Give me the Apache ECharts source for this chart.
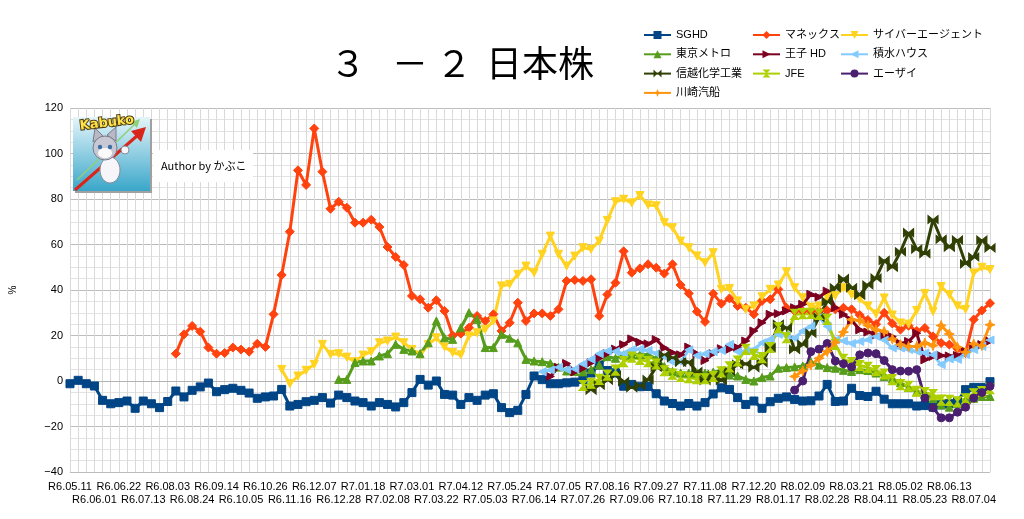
<!DOCTYPE html>
<html><head><meta charset="utf-8">
<script src="https://cdn.jsdelivr.net/npm/echarts@6/dist/echarts.min.js"></script>
<style>html,body{margin:0;padding:0;background:#fff}#c{width:1024px;height:519px}</style>
</head><body><div id="c"></div>
<script>
const categories = [
'R6.05.11','R6.05.18','R6.05.25','R6.06.01','R6.06.08','R6.06.15','R6.06.22','R6.06.29','R6.07.06','R6.07.13',
'R6.07.20','R6.07.27','R6.08.03','R6.08.10','R6.08.17','R6.08.24','R6.08.31','R6.09.07','R6.09.14','R6.09.21',
'R6.09.28','R6.10.05','R6.10.12','R6.10.19','R6.10.26','R6.11.02','R6.11.09','R6.11.16','R6.11.23','R6.11.30',
'R6.12.07','R6.12.14','R6.12.21','R6.12.28','R7.01.04','R7.01.11','R7.01.18','R7.01.25','R7.02.01','R7.02.08',
'R7.02.15','R7.02.22','R7.03.01','R7.03.08','R7.03.15','R7.03.22','R7.03.29','R7.04.05','R7.04.12','R7.04.19',
'R7.04.26','R7.05.03','R7.05.10','R7.05.17','R7.05.24','R7.05.31','R7.06.07','R7.06.14','R7.06.21','R7.06.28',
'R7.07.05','R7.07.12','R7.07.19','R7.07.26','R7.08.02','R7.08.09','R7.08.16','R7.08.23','R7.08.30','R7.09.06',
'R7.09.13','R7.09.20','R7.09.27','R7.10.04','R7.10.11','R7.10.18','R7.10.25','R7.11.01','R7.11.08','R7.11.15',
'R7.11.22','R7.11.29','R7.12.06','R7.12.13','R7.12.20','R7.12.27','R8.01.10','R8.01.17','R8.01.24','R8.01.31',
'R8.02.09','R8.02.14','R8.02.21','R8.02.28','R8.03.07','R8.03.14','R8.03.21','R8.03.28','R8.04.04','R8.04.11',
'R8.04.18','R8.04.25','R8.05.02','R8.05.09','R8.05.16','R8.05.23','R8.05.30','R8.06.06','R8.06.13','R8.06.20',
'R8.06.27','R8.07.04','R8.07.11','R8.07.18'];

const yTicks = [-40, -20, 0, 20, 40, 60, 80, 100, 120];

// SGHD from index 0
const sghd = [
-1.2,0.3,-1.2,-2.2,-8.5,-10,-9.5,-8.8,-12,-8.8,
-10,-11.7,-9,-4.4,-7,-4.1,-2.6,-0.9,-4.7,-3.8,
-3.2,-4.1,-5.3,-7.6,-7,-6.6,-3.7,-11,-10.3,-9.1,
-8.5,-7.3,-9.7,-6.2,-7.3,-8.8,-9.5,-11,-9.5,-10.3,
-11.4,-9.5,-5.1,0.7,-1.8,0,-5.9,-6.2,-10.3,-7.3,
-8.5,-6.2,-5.6,-11.7,-13.9,-12.9,-5.9,2.2,0.6,-1.2,
-1.2,-0.8,-0.5,0.7,3.5,7,4.6,3.6,-2.3,-1.5,
-2.5,-2.4,-5.6,-8.8,-9.9,-11,-9.9,-11,-9.5,-5.7,
-3,-3.7,-7.3,-10.3,-8.8,-12,-9.1,-7.6,-7,-8.1,
-8.8,-8.7,-6.6,-1.5,-9,-8.8,-3.2,-6.4,-6.8,-4.5,
-8,-10,-10,-10,-11,-10.8,-11.5,-10.5,-10,-9,
-3.8,-2.8,-2.8,-0.3];

// マネックス from index 13
const manexStart = 13;
const manex = [
12,20.5,24.2,21.7,14.7,12,12.3,14.7,13.8,12.9,
16.4,15,29.3,46.6,65.6,92.6,86.2,111,92,75.7,
78.8,76.2,69.6,69.6,70.9,67.7,58.9,54.5,51,37.4,
35.9,32.2,35.5,30.8,20,20.8,23.4,28.6,26.4,29.3,
22,25.6,34.4,26.4,29.7,29.7,28.6,31.5,44,44.4,
44,44.7,28.6,38,43.2,57,47.6,49.5,51.3,49.8,
47.2,51.3,42.2,38.5,30.5,26,38.4,34,36.3,33,
32.2,29.3,35.2,35.9,40.3,32.2,30.8,30.8,30.8,30.8,
31,31.5,32.2,31.5,29,26.8,25,30,25.3,22.6,
24.3,22,23.3,19.6,16.7,16,14.2,12.3,27,31,34.2];

// サイバーエージェント from index 26
const cyberStart = 26;
const cyber = [
5.1,-1.2,2.2,4.7,7.3,16.1,11.7,12,10.5,8.5,
11.4,12.9,16.8,17.6,19.3,16.8,13.9,11.4,16,19,
15,12.5,11.5,19.8,21.2,22.7,26.4,41.8,42.5,46.9,
50.5,47.6,55.7,63.7,55.7,50.5,54.9,58.6,57.9,61.5,
70.6,78.8,79.9,78.3,81.5,77.4,77,69.6,67.4,61.5,
58.6,55,52,56.4,40.3,40.7,35.2,31.5,33,37,
40.3,42.2,48,41,36.6,32.5,33,37,37.5,41,
38,36,33,29.5,36.5,29,25.5,25,31,38.5,
30.5,41.5,38,33,31.5,47.5,50,49];

// 東京メトロ from index 33
const metroStart = 33;
const metro = [
0.7,0.7,8.1,8.8,8.8,11,12,16.1,13.9,13.2,
12,16.8,26.4,19,18.3,23.4,30,27.1,14.7,14.7,
20.5,18.8,16.8,9.5,8.8,8.5,7.8,6.1,4.4,4.2,
4,5,7,10.7,10,11.4,11.5,11.7,11.6,9.7,
6.4,4.2,3.5,3.5,3.5,3.5,3.9,4.6,2.6,2.2,
0.7,0,1.5,2.2,5.6,5.9,6.2,6.6,8.4,7,
5.9,5.6,4.7,4.2,5,4.6,3.5,2,1,-0.7,
-2.9,-4.7,-5.6,-7.7,-10.5,-11.5,-10,-8.6,-7.6,-6.8,-6.8];

// 王子 HD from index 59
const ojiStart = 59;
const oji = [
2,6,7.7,4,5.5,8,10,12,14,16,
18.5,17,16.3,18.2,14.6,12.5,11.5,14.9,12,9,
12,14.2,13.9,14.7,17.6,22,25.6,29.3,29.6,30.8,
32.2,33.7,38.1,36.9,39.5,32.2,29.3,26.7,22.5,21.5,
20.3,20,19.5,16.5,17.4,21,9.3,10.8,11.2,11,
11.2,13.1,15.2,16,17.5];

// 積水ハウス from index 58
const sekisuiStart = 58;
const sekisui = [
4.1,4.8,6,5,5.3,7.5,9.5,12,13.2,13,
12,13.8,14,13.4,12.1,10.7,8.3,8.3,13.7,11.2,
12,12.9,13.4,16.1,12.9,13.2,13.9,16.8,18.3,20.5,
20.2,18.8,22,24,28,24,18,17.6,16.5,17.4,
18.1,19.6,18,14.5,14.5,13.8,13,12.3,11.5,7.2,
9.7,9.5,11.7,13.8,15.2,18];

// 信越化学工業 from index 64
const shinetsuStart = 64;
const shinetsu = [
-4,-1.8,0.4,2.6,-0.3,-2.9,-2,0.6,6.1,11.5,
10.2,8.3,8.3,4.2,0.2,2.8,0.2,4.4,7.3,7.6,
5.9,8.1,14.7,24.9,23.4,13.9,16.1,21,28,35,
41,45,41,37.7,42.2,45.2,53,50,56.8,65.2,
58,56,71,62.3,58.8,62,51.5,54.5,62,58.5];

// JFE from index 63
const jfeStart = 63;
const jfe = [
-2,-1,0.7,2.6,4.8,8.5,10.5,9.5,8.5,7.5,
4.5,3,2,1.5,1,1,2,4,6.2,8.8,
13.9,11.7,10.3,14.7,23.4,19,29.3,29.6,29.7,29.3,
27.1,16.1,9.5,8.1,6.8,6,4.6,3.1,0.6,-1.6,
-2.3,-4.5,-5.1,-6,-8.4,-8.5,-9.1,-7.8,-5.6,-4.6,-3.4];

// エーザイ from index 89
const eisaiStart = 89;
const eisai = [
-4,0,12.9,14,16.5,8.8,7.6,6.2,11.5,12.3,
12,9,5,4.4,4.3,5,-7.5,-11.8,-16.2,-16.2,
-13.7,-11.5,-7.5,-5.1,-2.3];

// 川崎汽船 from index 89
const kawasakiStart = 89;
const kawasaki = [
2,4.5,7,10,13,17,21.5,27,26.6,24.4,
22.5,21.8,18.5,16,15.2,15.2,16.7,15.6,24.4,20.7,
14.9,12.7,16.3,15.6,24.7];

const pad = (start, arr) => Array(start).fill(null).concat(arr);

const BOWTIE = 'path://M0,0L10,5L0,10Z M20,0L10,5L20,10Z';
const HOURGLASS = 'path://M0,0L10,0L5,10Z M0,20L10,20L5,10Z';
const STAR = 'path://M5,0L6.4,3.6L10,5L6.4,6.4L5,10L3.6,6.4L0,5L3.6,3.6Z';

const defs = [
  {name:'SGHD', data: sghd, color:'#004586', symbol:'rect', size:8},
  {name:'マネックス', data: pad(manexStart, manex), color:'#ff420e', symbol:'diamond', size:9},
  {name:'サイバーエージェント', data: pad(cyberStart, cyber), color:'#ffd320', symbol:'triangle', size:8, rotate:180},
  {name:'東京メトロ', data: pad(metroStart, metro), color:'#579d1c', symbol:'triangle', size:8},
  {name:'王子 HD', data: pad(ojiStart, oji), color:'#7e0021', symbol:'triangle', size:8, rotate:-90},
  {name:'積水ハウス', data: pad(sekisuiStart, sekisui), color:'#83caff', symbol:'triangle', size:8, rotate:90},
  {name:'信越化学工業', data: pad(shinetsuStart, shinetsu), color:'#314004', symbol:BOWTIE, size:[10,8]},
  {name:'JFE', data: pad(jfeStart, jfe), color:'#aecf00', symbol:HOURGLASS, size:[8,10]},
  {name:'エーザイ', data: pad(eisaiStart, eisai), color:'#4b1f6f', symbol:'circle', size:8},
  {name:'川崎汽船', data: pad(kawasakiStart, kawasaki), color:'#ff950e', symbol:STAR, size:10}
];

const FONT = '"Liberation Sans","Noto Sans CJK JP",sans-serif';
const TFONT = '"Noto Sans CJK JP",sans-serif';

const series = defs.map(d => ({
  name: d.name, type: 'line', data: d.data, xAxisIndex: 0,
  symbol: d.symbol, symbolSize: d.size, symbolRotate: d.rotate || 0,
  showAllSymbol: true,
  lineStyle: {color: d.color, width: 3},
  itemStyle: {color: d.color, borderColor: d.color},
  emphasis: {disabled: true},
  animation: false
}));

const legendBase = {
  orient: 'vertical', top: 28, padding: 0, itemWidth: 27, itemHeight: 10, itemGap: 5.3,
  selectedMode: false,
  textStyle: {fontFamily: FONT, fontSize: 11, color: '#000', lineHeight: 14}
};

const labelStyle = {fontFamily: FONT, fontSize: 11, color: '#000', lineHeight: 13,
  showMinLabel: true, showMaxLabel: true, hideOverlap: false};

const chart = echarts.init(document.getElementById('c'), null, {renderer: 'canvas'});
chart.setOption({
  animation: false,
  backgroundColor: '#fff',
  title: {
    text: '{a|３}{b|－}{c|２}{d|日本株}',
    left: 325, top: 40,
    textStyle: {
      fontWeight: 'normal',
      rich: {
        a: {width: 62, fontSize: 36, fontWeight: 'normal', fontFamily: TFONT, color: '#000'},
        b: {width: 44, fontSize: 36, fontWeight: 'normal', fontFamily: TFONT, color: '#000'},
        c: {width: 50, fontSize: 36, fontWeight: 'normal', fontFamily: TFONT, color: '#000'},
        d: {fontSize: 36, fontWeight: 'normal', fontFamily: TFONT, color: '#000'}
      }
    }
  },
  legend: [
    Object.assign({}, legendBase, {left: 643, data: ['SGHD','東京メトロ','信越化学工業','川崎汽船']}),
    Object.assign({}, legendBase, {left: 752, data: ['マネックス','王子 HD','JFE']}),
    Object.assign({}, legendBase, {left: 840, data: ['サイバーエージェント','積水ハウス','エーザイ']})
  ],
  grid: {left: 64, right: 34, top: 108, bottom: 47, containLabel: false},
  xAxis: [
    {
      type: 'category', data: categories, boundaryGap: false, position: 'bottom',
      axisTick: {show: false},
      axisLine: {lineStyle: {color: '#b3b3b3'}},
      splitLine: {show: true, interval: 0, lineStyle: {color: '#d9d9d9', width: 1}},
      axisLabel: Object.assign({}, labelStyle, {interval: (i) => i % 6 === 0, margin: 8})
    },
    {
      type: 'category', data: categories, boundaryGap: false, position: 'bottom', offset: 13,
      axisTick: {show: false}, axisLine: {show: false}, splitLine: {show: false},
      axisLabel: Object.assign({}, labelStyle, {interval: (i) => i % 6 === 3, margin: 8})
    }
  ],
  yAxis: {
    type: 'value', min: yTicks[0], max: yTicks[yTicks.length - 1], interval: 20,
    name: '%', nameLocation: 'middle', nameGap: 52, nameRotate: 90,
    nameTextStyle: {fontFamily: FONT, fontSize: 10, color: '#000'},
    axisLine: {show: false}, axisTick: {show: false},
    axisLabel: {fontFamily: FONT, fontSize: 11, color: '#000', margin: 7,
      formatter: (v) => String(v).replace('-', '−')},
    splitLine: {lineStyle: {color: '#bcbcbc'}},
    minorTick: {show: false, splitNumber: 4},
    minorSplitLine: {show: true, lineStyle: {color: '#e2e2e2'}}
  },
  graphic: [
    {type: 'rect', silent: true, z: 100, shape: {x: 75, y: 119, width: 77, height: 74}, style: {fill: '#a0a0a0'}},
    {type: 'rect', silent: true, z: 101, shape: {x: 73, y: 117, width: 77, height: 74},
      style: {fill: new echarts.graphic.LinearGradient(0, 0, 0, 1, [{offset: 0, color: '#e4f5fb'}, {offset: 1, color: '#3aa6c9'}])}},
    {type: 'line', silent: true, z: 102, shape: {x1: 77, y1: 180, x2: 136, y2: 123}, style: {stroke: '#8fd07a', lineWidth: 1.5}},
    {type: 'polygon', silent: true, z: 102, shape: {points: [[140, 119], [131, 122], [137, 128]]}, style: {fill: '#8fd07a'}},
    {type: 'line', silent: true, z: 103, shape: {x1: 75, y1: 190, x2: 138, y2: 135}, style: {stroke: '#d8261c', lineWidth: 3}},
    {type: 'polygon', silent: true, z: 103, shape: {points: [[146, 127], [131, 131], [141, 142]]}, style: {fill: '#d8261c'}},
    {type: 'ellipse', silent: true, z: 104, shape: {cx: 110, cy: 170, rx: 10, ry: 13}, style: {fill: '#f6f6fa', stroke: '#8a8a9a', lineWidth: 1}},
    {type: 'polygon', silent: true, z: 104, shape: {points: [[93, 142], [95, 128], [103, 136]]}, style: {fill: '#b9b9c6', stroke: '#7a7a8a', lineWidth: 1}},
    {type: 'polygon', silent: true, z: 104, shape: {points: [[107, 135], [116, 127], [116, 141]]}, style: {fill: '#b9b9c6', stroke: '#7a7a8a', lineWidth: 1}},
    {type: 'circle', silent: true, z: 105, shape: {cx: 105, cy: 148, r: 12}, style: {fill: '#c8c8d4', stroke: '#7a7a8a', lineWidth: 1}},
    {type: 'ellipse', silent: true, z: 106, shape: {cx: 105, cy: 153, rx: 7, ry: 5}, style: {fill: '#fafafa'}},
    {type: 'circle', silent: true, z: 107, shape: {cx: 100, cy: 147, r: 2.2}, style: {fill: '#3a6ea8'}},
    {type: 'circle', silent: true, z: 107, shape: {cx: 110, cy: 147, r: 2.2}, style: {fill: '#3a6ea8'}},
    {type: 'circle', silent: true, z: 104, shape: {cx: 125, cy: 150, r: 4}, style: {fill: '#f6f6fa', stroke: '#8a8a9a', lineWidth: 1}},
    {type: 'text', silent: true, z: 108, rotation: 0.12, x: 79, y: 120,
      style: {text: 'Kabuko', fill: '#ffe14a', stroke: '#4a3a10', lineWidth: 2, font: 'bold 13px "DejaVu Sans",sans-serif'}},
    {type: 'rect', silent: true, z: 100, shape: {x: 153, y: 150, width: 100, height: 32}, style: {fill: '#ffffff'}},
    {type: 'text', silent: true, z: 101, x: 161, y: 166,
      style: {text: 'Author by かぶこ', fill: '#000', font: '11px "Noto Sans CJK JP",sans-serif', verticalAlign: 'middle'}}
  ],
  series: series
});
</script>
</body></html>
